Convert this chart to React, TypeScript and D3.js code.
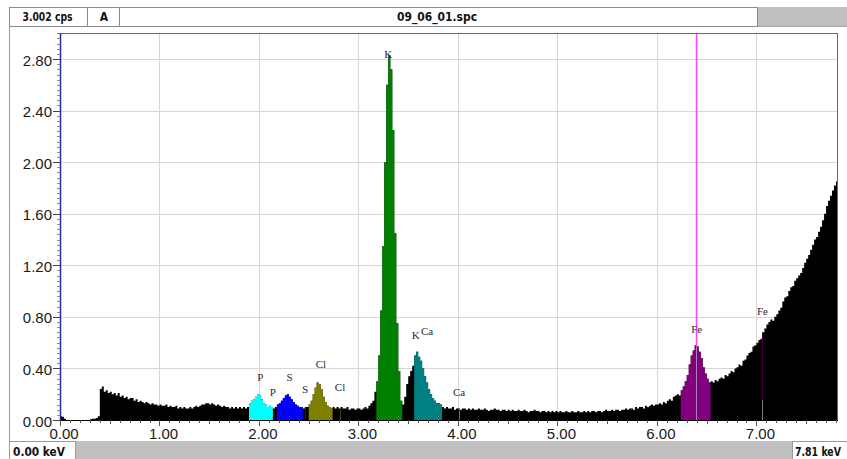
import React from "react";
import * as d3 from "d3";

// ---- data ----
const ENERGY_STEP = 0.02; // keV per bin
const ENERGY_MAX = 7.81;
const CPS_MAX = 3.002;

// counts per bin (cps), bins start at 0.00 keV, 10 bins (0.2 keV) per row
const counts: number[] = [
  0.03, 0.025, 0.01, 0, 0, 0, 0, 0, 0, 0,
  0, 0, 0, 0, 0, 0.005, 0.01, 0.01, 0.015, 0.03,
  0.24, 0.26, 0.22, 0.23, 0.21, 0.22, 0.2, 0.21, 0.19, 0.21,
  0.18, 0.19, 0.17, 0.18, 0.16, 0.17, 0.17, 0.15, 0.16, 0.14,
  0.15, 0.14, 0.13, 0.14, 0.13, 0.12, 0.13, 0.12, 0.12, 0.11,
  0.12, 0.11, 0.11, 0.12, 0.1, 0.11, 0.1, 0.1, 0.11, 0.09,
  0.1, 0.09, 0.1, 0.09, 0.09, 0.1, 0.09, 0.1, 0.11, 0.1,
  0.11, 0.12, 0.12, 0.13, 0.13, 0.12, 0.13, 0.12, 0.11, 0.12,
  0.11, 0.1, 0.11, 0.1, 0.1, 0.09, 0.1, 0.09, 0.1, 0.09,
  0.1, 0.09, 0.1, 0.09, 0.1, 0.13, 0.15, 0.16, 0.18, 0.2,
  0.19, 0.16, 0.13, 0.12, 0.1, 0.11, 0.1, 0.09, 0.1, 0.12,
  0.13, 0.15, 0.17, 0.19, 0.2, 0.18, 0.16, 0.14, 0.12, 0.11,
  0.1, 0.1, 0.09, 0.1, 0.1, 0.12, 0.15, 0.2, 0.25, 0.29,
  0.28, 0.24, 0.18, 0.14, 0.11, 0.1, 0.09, 0.1, 0.09, 0.1,
  0.09, 0.1, 0.09, 0.09, 0.1, 0.08, 0.09, 0.09, 0.08, 0.09,
  0.09, 0.08, 0.09, 0.1, 0.09, 0.11, 0.13, 0.15, 0.22, 0.3,
  0.5, 0.85, 1.35, 2.0, 2.6, 2.83, 2.72, 2.25, 1.45, 0.75,
  0.38, 0.15, 0.12, 0.18, 0.28, 0.34, 0.38, 0.42, 0.5, 0.53,
  0.49, 0.46, 0.4, 0.34, 0.29, 0.24, 0.2, 0.17, 0.15, 0.13,
  0.13, 0.12, 0.1, 0.09, 0.1, 0.09, 0.09, 0.1, 0.08, 0.09,
  0.09, 0.08, 0.09, 0.09, 0.08, 0.09, 0.08, 0.09, 0.08, 0.08,
  0.09, 0.08, 0.08, 0.09, 0.08, 0.07, 0.08, 0.08, 0.09, 0.08,
  0.08, 0.07, 0.08, 0.08, 0.07, 0.08, 0.07, 0.08, 0.07, 0.07,
  0.08, 0.07, 0.07, 0.08, 0.07, 0.06, 0.07, 0.07, 0.08, 0.07,
  0.07, 0.06, 0.07, 0.07, 0.06, 0.07, 0.06, 0.07, 0.06, 0.07,
  0.06, 0.07, 0.06, 0.06, 0.07, 0.06, 0.06, 0.07, 0.06, 0.06,
  0.07, 0.06, 0.06, 0.07, 0.06, 0.07, 0.06, 0.07, 0.07, 0.06,
  0.07, 0.07, 0.06, 0.07, 0.08, 0.07, 0.07, 0.08, 0.07, 0.08,
  0.08, 0.07, 0.08, 0.08, 0.09, 0.08, 0.09, 0.09, 0.08, 0.1,
  0.09, 0.1, 0.1, 0.09, 0.11, 0.1, 0.11, 0.12, 0.11, 0.12,
  0.12, 0.13, 0.12, 0.14, 0.13, 0.15, 0.16, 0.15, 0.18, 0.19,
  0.2, 0.19, 0.23, 0.26, 0.3, 0.35, 0.43, 0.5, 0.54, 0.58,
  0.57, 0.53, 0.48, 0.41, 0.36, 0.32, 0.29, 0.3, 0.29, 0.31,
  0.3, 0.32, 0.33, 0.32, 0.35, 0.34, 0.36, 0.38, 0.37, 0.4,
  0.41, 0.43, 0.42, 0.46, 0.47, 0.5, 0.52, 0.53, 0.57, 0.58,
  0.6, 0.62, 0.63, 0.68, 0.71, 0.74, 0.76, 0.78, 0.77, 0.8,
  0.82, 0.85, 0.87, 0.92, 0.95, 0.96, 1.0, 1.03, 1.04, 1.08,
  1.1, 1.12, 1.14, 1.18, 1.22, 1.25, 1.28, 1.32, 1.36, 1.4,
  1.42, 1.46, 1.5, 1.55, 1.6, 1.66, 1.7, 1.74, 1.78, 1.82,
  1.85,
];

// element regions of interest
const roiNames = ["P", "S", "Cl", "K", "Ca", "Fe"];
const roiStart = [1.9, 2.18, 2.5, 3.18, 3.56, 6.24];
const roiEnd = [2.14, 2.44, 2.74, 3.44, 3.84, 6.54];
const roiColors = ["#00ffff", "#0000ff", "#808000", "#008000", "#008080", "#800080"];

// element line labels
const lineLabels = ["P", "P", "S", "S", "Cl", "Cl", "K", "K", "Ca", "Ca", "Fe", "Fe"];
const lineEnergies = [2.013, 2.139, 2.307, 2.464, 2.622, 2.815, 3.3, 3.575, 3.69, 4.012, 6.4, 7.06];
const lineLabelCps = [0.3, 0.19, 0.3, 0.21, 0.4, 0.225, 2.81, 0.63, 0.66, 0.19, 0.675, 0.815];

// K-beta markers drawn inside the spectrum
const markerEnergies = [2.464, 2.815, 4.012, 7.06];
const markerColors = ["#10104a", "#404000", "#3a7a7a", "#400040"];

// cursor
const cursorEnergy = 6.4;

const yTicks = [0, 0.4, 0.8, 1.2, 1.6, 2.0, 2.4, 2.8];
const xTicks = [0, 1, 2, 3, 4, 5, 6, 7];

// header / footer texts
const headerCps = "3.002 cps";
const headerMode = "A";
const headerFile = "09_06_01.spc";
const footerLeft = "0.00 keV";
const footerRight = "7.81 keV";

const W = 847;
const H = 459;
const PL = 60;
const PR = 837;
const PT = 33;
const PB = 420;

const narrow = "'Liberation Sans Narrow', 'Arial Narrow', 'DejaVu Sans Condensed', 'Liberation Sans', sans-serif";

export default function App() {
  const x = d3.scaleLinear().domain([0, ENERGY_MAX]).range([PL, PR]);
  const y = d3.scaleLinear().domain([0, CPS_MAX]).range([PB, PT]);

  const bins: [number, number][] = counts.map((v, i) => [i * ENERGY_STEP, v]);
  const area = d3
    .area<[number, number]>()
    .x((d) => x(d[0]))
    .y0(y(0))
    .y1((d) => y(d[1]))
    .curve(d3.curveStepAfter);

  const full = [...bins, [ENERGY_MAX, counts[counts.length - 1]] as [number, number]];

  const roiPaths = roiNames.map((name, r) => {
    const pts = bins.filter((b) => b[0] >= roiStart[r] - 1e-9 && b[0] < roiEnd[r] - 1e-9);
    const last = pts[pts.length - 1];
    pts.push([roiEnd[r], last[1]]);
    return { name, d: area(pts) || "", color: roiColors[r] };
  });

  const valueAt = (e: number) => {
    const i = Math.min(counts.length - 1, Math.floor(e / ENERGY_STEP + 1e-6));
    return counts[i];
  };

  const minorY = d3.range(0, CPS_MAX, 0.04);
  const minorX = d3.range(0, ENERGY_MAX + 1e-9, 0.1);
  const cx = Math.round(x(cursorEnergy)) - 0.5;

  return (
    <svg
      width={W}
      height={H}
      style={{ position: "absolute", left: 0, top: 0, background: "#fff" }}
    >
      {/* header */}
      <g fontFamily={narrow} fontWeight="bold" fontSize={12} fill="#111">
        <rect x={9.5} y={7.5} width={78} height={19} fill="#fff" stroke="#8a8a8a" />
        <rect x={87.5} y={7.5} width={32} height={19} fill="#fff" stroke="#8a8a8a" />
        <rect x={119.5} y={7.5} width={638} height={19} fill="#fff" stroke="#8a8a8a" />
        <rect x={758} y={7} width={89} height={19} fill="#c0c0c0" />
        <line x1={758} x2={847} y1={26.5} y2={26.5} stroke="#a8a8a8" />
        <text x={22.5} y={21} textLength={50} lengthAdjust="spacingAndGlyphs">{headerCps}</text>
        <text x={104} y={21} textAnchor="middle">{headerMode}</text>
        <text x={397} y={21} textLength={80} lengthAdjust="spacingAndGlyphs">{headerFile}</text>
      </g>

      {/* panel border */}
      <line x1={9.5} x2={9.5} y1={27} y2={441} stroke="#9a9a9a" />

      {/* grid */}
      <g stroke="#d6d6d6" strokeWidth={1}>
        {yTicks.filter((t) => t > 0).map((t) => (
          <line key={"gy" + t} x1={PL} x2={PR} y1={Math.round(y(t)) + 0.5} y2={Math.round(y(t)) + 0.5} />
        ))}
        {xTicks.filter((t) => t > 0).map((t) => (
          <line key={"gx" + t} x1={Math.round(x(t)) + 0.5} x2={Math.round(x(t)) + 0.5} y1={PT} y2={PB} />
        ))}
      </g>

      {/* spectrum */}
      <path d={area(full) || ""} fill="#000" />
      {roiPaths.map((p) => (
        <path key={p.name} d={p.d} fill={p.color} />
      ))}

      {/* cursor */}
      <line x1={cx} x2={cx} y1={PT + 1} y2={y(valueAt(cursorEnergy))} stroke="#ff40ff" strokeWidth={1.5} />
      <line x1={cx} x2={cx} y1={y(valueAt(cursorEnergy))} y2={PB} stroke="#b080b0" strokeWidth={1} />

      {/* k-beta markers */}
      {markerEnergies.map((e, i) => (
        <line
          key={"m" + i}
          x1={Math.round(x(e)) + 0.5}
          x2={Math.round(x(e)) + 0.5}
          y1={y(valueAt(e))}
          y2={i === 3 ? PB - 20 : PB}
          stroke={markerColors[i]}
          strokeWidth={1}
        />
      ))}
      <line
        x1={Math.round(x(markerEnergies[3])) + 0.5}
        x2={Math.round(x(markerEnergies[3])) + 0.5}
        y1={PB - 20}
        y2={PB}
        stroke="#808080"
      />

      {/* element labels */}
      <g fontFamily="'Liberation Serif', 'DejaVu Serif', serif" fontSize={11} fill="#2a2a3a" textAnchor="middle">
        {lineLabels.map((l, i) => (
          <text key={"l" + i} x={x(lineEnergies[i])} y={y(lineLabelCps[i])}>
            {l}
          </text>
        ))}
      </g>

      {/* frame */}
      <line x1={PL} x2={PR + 0.5} y1={PT + 0.5} y2={PT + 0.5} stroke="#6a6a6a" />
      <line x1={PR + 0.5} x2={PR + 0.5} y1={PT} y2={PB} stroke="#6a6a6a" />

      {/* y axis */}
      <line x1={PL + 0.5} x2={PL + 0.5} y1={PT} y2={PB + 1} stroke="#2a2aa0" strokeWidth={1.5} />
      <g stroke="#8a8a8a">
        {minorY.map((t, i) => (
          <line key={"my" + i} x1={PL - 3} x2={PL} y1={Math.round(y(t)) + 0.5} y2={Math.round(y(t)) + 0.5} />
        ))}
      </g>
      <g stroke="#444">
        {yTicks.map((t) => (
          <line key={"ty" + t} x1={PL - 7} x2={PL} y1={Math.round(y(t)) + 0.5} y2={Math.round(y(t)) + 0.5} />
        ))}
      </g>
      <g fontFamily="'Liberation Sans', Arial, sans-serif" fontSize={15} fill="#1a1a1a" textAnchor="end">
        {yTicks.map((t) => (
          <text key={"yl" + t} x={52} y={y(t) + 6.5}>
            {t.toFixed(2)}
          </text>
        ))}
      </g>

      {/* x axis */}
      <line x1={PL} x2={PR + 1} y1={PB + 0.5} y2={PB + 0.5} stroke="#000" />
      <g stroke="#555">
        {minorX.map((t, i) => {
          const major = i % 10 === 0;
          const mid = i % 5 === 0;
          return (
            <line
              key={"mx" + i}
              x1={Math.round(x(t)) + 0.5}
              x2={Math.round(x(t)) + 0.5}
              y1={PB}
              y2={PB + (major ? 6 : mid ? 4 : 3)}
            />
          );
        })}
      </g>
      <g fontFamily="'Liberation Sans', Arial, sans-serif" fontSize={15} fill="#1a1a1a" textAnchor="middle">
        {xTicks.map((t) => (
          <text key={"xl" + t} x={x(t) + 4} y={439}>
            {t.toFixed(2)}
          </text>
        ))}
      </g>

      {/* footer */}
      <g fontFamily={narrow} fontWeight="bold" fontSize={12} fill="#111">
        <rect x={9.5} y={441.5} width={66} height={20} fill="#fff" stroke="#9a9a9a" />
        <rect x={76} y={441} width={716} height={18} fill="#c0c0c0" />
        <rect x={792.5} y={441.5} width={60} height={20} fill="#fff" stroke="#9a9a9a" />
        <text x={13} y={455.5} textLength={52} lengthAdjust="spacingAndGlyphs">{footerLeft}</text>
        <text x={795} y={455.5} textLength={46} lengthAdjust="spacingAndGlyphs">{footerRight}</text>
      </g>
    </svg>
  );
}
